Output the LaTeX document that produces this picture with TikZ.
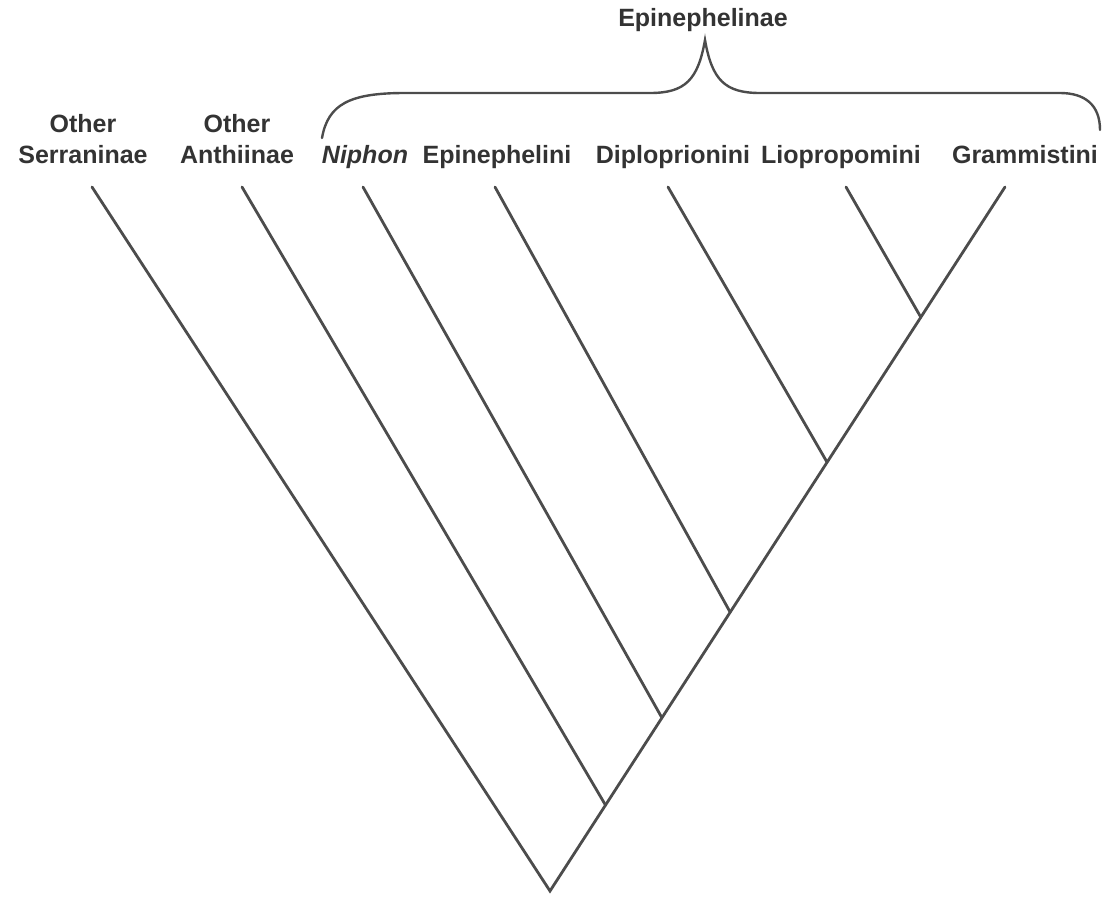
\documentclass[tikz,border=0pt]{standalone}
\usepackage{fontspec}
\setmainfont{Liberation Sans}
\usetikzlibrary{calc}

\begin{document}
\begin{tikzpicture}[x=1pt,y=-1pt,
  branch/.style={line width=2.8pt, draw=black!70, line cap=round},
  taxon/.style={font=\fontsize{25}{31}\selectfont\bfseries, text=black!80, inner sep=0pt, align=center, anchor=base}]
\useasboundingbox (0,0) rectangle (1112,900);
% define the tree
\coordinate (root) at (550,891);
\coordinate (t1) at (92,187);
\coordinate (t2) at (242,187);
\coordinate (t3) at (363,187);
\coordinate (t4) at (495,187);
\coordinate (t5) at (668,187);
\coordinate (t6) at (846,187);
\coordinate (t7) at (1005,187);
\coordinate (n1) at ($(root)!0.122!(t7)$);
\coordinate (n2) at ($(root)!0.246!(t7)$);
\coordinate (n3) at ($(root)!0.396!(t7)$);
\coordinate (n4) at ($(root)!0.609!(t7)$);
\coordinate (n5) at ($(root)!0.815!(t7)$);

% draw branches
\draw[branch] (t1) -- (root) -- (t7);
\foreach \t/\n in {t2/n1, t3/n2, t4/n3, t5/n4, t6/n5}{
	\draw[branch] (\t) -- (\n);
}

% text
\node[taxon] (serr) at (83,163) {Other\\Serraninae};
\node[taxon] (anth) at (237,163) {Other\\Anthiinae};
\node[taxon, font=\fontsize{25}{31}\selectfont\bfseries\itshape] (niph) at (365,163) {Niphon};
\node[taxon] (epin) at (497,163) {Epinephelini};
\node[taxon] (dipl) at (673,163) {Diploprionini};
\node[taxon] (liop) at (841,163) {Liopropomini};
\node[taxon] (gram) at (1025,163) {Grammistini};
\node[taxon] (subf) at (703,26) {Epinephelinae};

% brace over the subfamily
\coordinate (apex) at (705,40);
\draw[branch, line width=2.4pt] (322,138) .. controls (328,104) and (350,93) .. (405,93)
  -- (650,93) .. controls (685,93) and (698,80) .. (apex)
  .. controls (712,80) and (725,93) .. (760,93) -- (1060,93)
  .. controls (1085,93) and (1100,105) .. (1100,130);
\end{tikzpicture}
\end{document}
